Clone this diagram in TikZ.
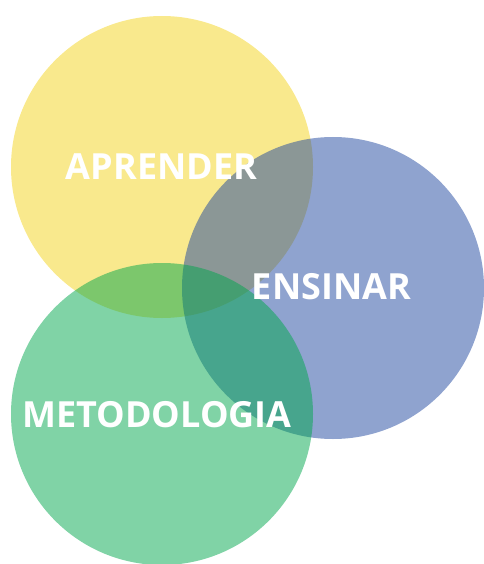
\documentclass[tikz,border=0pt]{standalone}
\usepackage{fontspec}
\setmainfont{Open Sans}
\definecolor{cyellow}{RGB}{243,211,27}
\definecolor{cblue}{RGB}{31,71,159}
\definecolor{cgreen}{RGB}{1,167,77}
\begin{document}
\begin{tikzpicture}[x=1pt,y=-1pt,
  disc/.style={circle,minimum size=302pt,inner sep=0pt,fill opacity=0.5,draw=none},
  lbl/.style={text=white,font=\fontsize{36}{40}\selectfont\bfseries,inner sep=0pt}]
\useasboundingbox (0,0) rectangle (483,564);
\node[disc,fill=cyellow] (yel) at (162,167) {};
\node[disc,fill=cblue] (blu) at (333,288) {};
\node[disc,fill=cgreen] (grn) at (162,414) {};
\node[lbl] (t1) at (161.5,167) {APRENDER};
\node[lbl] (t2) at (331.5,287) {ENSINAR};
\node[lbl] (t3) at (157,415) {METODOLOGIA};
\end{tikzpicture}
\end{document}
